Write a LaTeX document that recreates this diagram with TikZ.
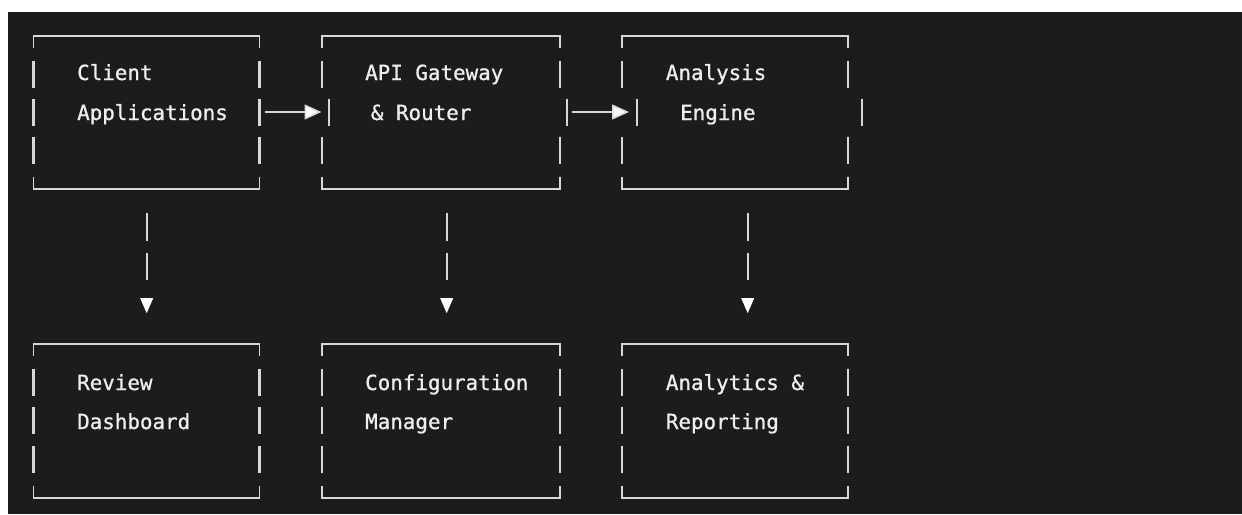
\documentclass[tikz,border=0pt]{standalone}
\usepackage{fontspec}
\newfontfamily\termfont[FakeBold=0.9]{DejaVu Sans Mono}
\usetikzlibrary{calc,fit,arrows.meta}

\definecolor{termbg}{RGB}{28,28,30}
\definecolor{termline}{RGB}{216,216,216}
\definecolor{termtext}{RGB}{238,238,238}

\tikzset{
  boxarea/.style={draw=none, inner sep=0pt},
  frame/.style={draw=termline, line width=1.8pt},
  bar/.style={draw=termline, line width=2.3pt},
  label/.style={text=termtext, inner sep=0pt, anchor=base west,
                font=\termfont\fontsize{20.85}{25}\selectfont},
  hlink/.style={draw=termline, line width=1.6pt,
                -{Triangle[length=17pt,width=15pt,fill=white]}},
  vhead/.style={fill=white, draw=none}
}

% A text-mode box: name, left x, right x, top y, shift of the middle row's left and right bars
\newcommand\asciibox[6]{%
  \node[boxarea, fit={(#2,#4) (#3,{#4+153.6})}] (#1) {};
  \draw[frame] (#2,{#4+12}) -- (#2,#4) -- (#3,#4) -- (#3,{#4+12});
  \draw[frame] (#2,{#4+141.6}) -- (#2,{#4+153.6}) -- (#3,{#4+153.6}) -- (#3,{#4+141.6});
  \foreach \k/\dl/\dr in {1/0/0, 2/#5/#6, 3/0/0}{
    \draw[bar] ({#2+\dl},{#4+38.4*\k-13.5}) -- ++(0,27);
    \draw[bar] ({#3+\dr},{#4+38.4*\k-13.5}) -- ++(0,27);
  }%
}

% A downward text-mode link below a box: source node, horizontal offset from its south anchor
\newcommand\vlink[2]{%
  \draw[bar] ($(#1.south)+(#2,23.7)$) -- ++(0,28);
  \draw[bar] ($(#1.south)+(#2,63.7)$) -- ++(0,27);
  \fill[vhead] ($(#1.south)+(#2-6.5,108.7)$) -- ++(13,0) -- ++(-6.5,15) -- cycle;
}

\begin{document}
\begin{tikzpicture}[x=1pt, y=-1pt]
  \useasboundingbox (0,0) rectangle (1242,514);
  \fill[white] (0,0) rectangle (1242,514);
  \fill[termbg] (8,12) rectangle (1242,514);

  % upper row of boxes
  \asciibox{client}{33.5}{259.5}{35.7}{0}{0}
  \asciibox{gateway}{322}{560}{35.7}{7.3}{6.7}
  \asciibox{engine}{622}{848}{35.7}{15.3}{13.7}

  % lower row of boxes
  \asciibox{review}{33.5}{259.5}{344}{0}{0}
  \asciibox{config}{322}{560}{344}{0}{0}
  \asciibox{reporting}{622}{848}{344}{0}{0}

  % labels
  \node[label] (t-client1) at (77,80) {Client};
  \node[label] (t-client2) at (77,120) {Applications};
  \node[label] (t-gateway1) at (365,80) {API Gateway};
  \node[label] (t-gateway2) at (370.7,120) {\& Router};
  \node[label] (t-engine1) at (665.7,80) {Analysis};
  \node[label] (t-engine2) at (680,120) {Engine};

  \node[label] (t-review1) at (77,390) {Review};
  \node[label] (t-review2) at (77,429) {Dashboard};
  \node[label] (t-config1) at (365,390) {Configuration};
  \node[label] (t-config2) at (365,429) {Manager};
  \node[label] (t-report1) at (665.7,390) {Analytics \&};
  \node[label] (t-report2) at (665.7,429) {Reporting};

  % horizontal links
  \draw[hlink] ($(client.east)+(5.7,-0.5)$) -- ($(gateway.west)+(-0.3,-0.5)$);
  \draw[hlink] ($(gateway.east)+(11.7,-0.5)$) -- ($(engine.west)+(7.3,-0.5)$);

  % vertical links
  \vlink{client}{0.2}
  \vlink{gateway}{5.7}
  \vlink{engine}{12.7}
\end{tikzpicture}
\end{document}
